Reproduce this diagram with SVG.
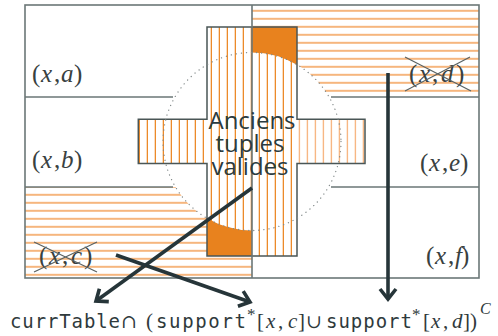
<svg xmlns="http://www.w3.org/2000/svg" width="498" height="336" viewBox="0 0 498 336">
  <style>
    .frame { fill: none; stroke: #6b7777; stroke-width: 1.6; }
    .div { stroke: #6b7777; stroke-width: 1.6; fill: none; }
    .cross { fill: none; stroke: #4a5656; stroke-width: 1.5; }
    .solid { fill: #e8821e; }
    .dots { fill: none; stroke: #808888; stroke-width: 1.3; stroke-dasharray: 0.1 5; stroke-linecap: round; }
    .lbl { font-family: "Liberation Serif", "DejaVu Serif", serif; font-size: 25px; fill: #39413f; }
    .it { font-style: italic; }
    .strike { stroke: #5a6262; stroke-width: 1.2; }
    .big { font-family: "Open Sans", "Noto Sans", sans-serif; font-size: 24px; fill: #2b3b40; text-anchor: middle; }
    .arrow { stroke: #263539; stroke-width: 3.6; fill: none; marker-end: url(#head); }
    .mono { font-family: "DejaVu Sans Mono", "Liberation Mono", monospace; font-size: 19px; fill: #2f3a3c; }
    .math { font-family: "Liberation Serif", "DejaVu Serif", serif; font-size: 21px; fill: #2f3a3c; }
    .star { font-family: "Liberation Serif", "DejaVu Serif", serif; font-size: 17px; fill: #2f3a3c; }
    .sup { font-family: "Liberation Serif", "DejaVu Serif", serif; font-size: 16px; font-style: italic; fill: #2f3a3c; }
    .op { font-family: "DejaVu Serif", serif; font-size: 19px; fill: #2f3a3c; }
  </style>
  <defs>
    <pattern id="hstripes" patternUnits="userSpaceOnUse" width="10" height="8" y="0">
      <rect x="0" y="1.8" width="10" height="2" fill="#f6b67e"/>
    </pattern>
    <pattern id="vstripes" patternUnits="userSpaceOnUse" width="8" height="10">
      <rect x="2.7" y="0" width="1.3" height="10" fill="#ec8a2a"/>
    </pattern>
    <pattern id="vstripesLight" patternUnits="userSpaceOnUse" width="8" height="10">
      <rect x="2.7" y="0" width="1.4" height="10" fill="#f7b784"/>
    </pattern>
    <!-- rectangle areas with the central disc cut out -->
    <clipPath id="outsideTop">
      <path clip-rule="evenodd" d="M252,5 H479 V97 H252 Z M163,141.5 A89,89 0 1,0 341,141.5 A89,89 0 1,0 163,141.5 Z"/>
    </clipPath>
    <clipPath id="outsideBottom">
      <path clip-rule="evenodd" d="M25,187 H252 V278 H25 Z M163,141.5 A89,89 0 1,0 341,141.5 A89,89 0 1,0 163,141.5 Z"/>
    </clipPath>
    <marker id="head" markerUnits="userSpaceOnUse" orient="auto" refX="0" refY="0" markerWidth="30" markerHeight="30" overflow="visible">
      <path d="M-10,-8 L0,0 L-10,8" fill="none" stroke="#263539" stroke-width="3.6" stroke-linejoin="miter"/>
    </marker>
  </defs>

  <!-- striped table rows -->
  <g id="row-xd-fill">
    <rect x="252" y="5" width="227" height="92" fill="url(#hstripes)" clip-path="url(#outsideTop)"/>
  </g>
  <g id="row-xc-fill">
    <rect x="25" y="187" width="227" height="91" fill="url(#hstripes)" clip-path="url(#outsideBottom)"/>
  </g>

  <!-- cross-shaped region -->
  <g id="cross">
    <rect x="138.3" y="119.3" width="68.7" height="44.2" fill="url(#vstripes)"/>
    <rect x="207" y="27" width="90" height="229" fill="url(#vstripes)"/>
    <rect x="297" y="119.3" width="68" height="44.2" fill="url(#vstripesLight)"/>
    <path class="solid" d="M252,27 H297 V64.7 A89,89 0 0,0 252,52.5 Z"/>
    <path class="solid" d="M207,218.3 A89,89 0 0,0 252,230.5 V256 H207 Z"/>
    <path class="cross" d="M207,27 H297 V119.3 H365 V163.5 H297 V256 H207 V163.5 H138.3 V119.3 H207 Z"/>
  </g>

  <!-- table frame and row separators -->
  <g id="table">
    <rect class="frame" x="25" y="5" width="454" height="273"/>
    <path class="div" d="M252,5 V278 M25,97 H173 M331,97 H479 M25,187 H173 M331,187 H479"/>
  </g>

  <g id="disc">
    <circle class="dots" cx="252" cy="141.5" r="89"/>
  </g>

  <!-- row labels -->
  <g id="label-xa">
    <text class="lbl" y="82"><tspan x="32">(</tspan><tspan class="it" x="41">x</tspan><tspan x="54">,</tspan><tspan class="it" x="61">a</tspan><tspan x="74">)</tspan></text>
  </g>
  <g id="label-xb">
    <text class="lbl" y="168"><tspan x="32">(</tspan><tspan class="it" x="41">x</tspan><tspan x="54">,</tspan><tspan class="it" x="61">b</tspan><tspan x="74">)</tspan></text>
  </g>
  <g id="label-xc">
    <text class="lbl" y="264"><tspan x="39">(</tspan><tspan class="it" x="49">x</tspan><tspan x="62">,</tspan><tspan class="it" x="71">c</tspan><tspan x="84">)</tspan></text>
    <line class="strike" x1="34" y1="242" x2="97" y2="272"/>
    <line class="strike" x1="97" y1="242" x2="34" y2="272"/>
  </g>
  <g id="label-xd">
    <text class="lbl" y="82"><tspan x="409">(</tspan><tspan class="it" x="419">x</tspan><tspan x="432">,</tspan><tspan class="it" x="441">d</tspan><tspan x="456">)</tspan></text>
    <line class="strike" x1="405" y1="57" x2="471" y2="91"/>
    <line class="strike" x1="470" y1="57" x2="405" y2="91"/>
  </g>
  <g id="label-xe">
    <text class="lbl" y="171"><tspan x="420">(</tspan><tspan class="it" x="429">x</tspan><tspan x="442">,</tspan><tspan class="it" x="449">e</tspan><tspan x="460">)</tspan></text>
  </g>
  <g id="label-xf">
    <text class="lbl" y="264"><tspan x="426">(</tspan><tspan class="it" x="435">x</tspan><tspan x="448">,</tspan><tspan class="it" x="455">f</tspan><tspan x="461">)</tspan></text>
  </g>

  <g id="title">
    <text class="big"><tspan x="252" y="129">Anciens</tspan><tspan x="250" y="152">tuples</tspan><tspan x="250" y="175">valides</tspan></text>
  </g>

  <g id="connectors">
    <path class="arrow" d="M252,188 L96,301"/>
    <path class="arrow" d="M116,255 L250,302"/>
    <path class="arrow" d="M388,73 V299"/>
  </g>

  <!-- bottom formula -->
  <g id="formula">
    <text class="mono" x="10" y="328" textLength="110" lengthAdjust="spacing">currTable</text>
    <text class="op" x="121" y="328">∩</text>
    <text class="math" x="146" y="328">(</text>
    <text class="mono" x="156" y="328" textLength="90" lengthAdjust="spacing">support</text>
    <text class="star" x="247" y="320">*</text>
    <text class="math" y="328"><tspan x="257">[</tspan><tspan class="it" x="266">x</tspan><tspan x="278">,</tspan><tspan class="it" x="288">c</tspan><tspan x="298">]</tspan></text>
    <text class="op" x="306" y="328">∪</text>
    <text class="mono" x="326" y="328" textLength="86" lengthAdjust="spacing">support</text>
    <text class="star" x="412" y="320">*</text>
    <text class="math" y="328"><tspan x="423">[</tspan><tspan class="it" x="431">x</tspan><tspan x="443">,</tspan><tspan class="it" x="452">d</tspan><tspan x="463">]</tspan><tspan x="470">)</tspan></text>
    <text class="sup" x="480" y="314">C</text>
  </g>
</svg>
